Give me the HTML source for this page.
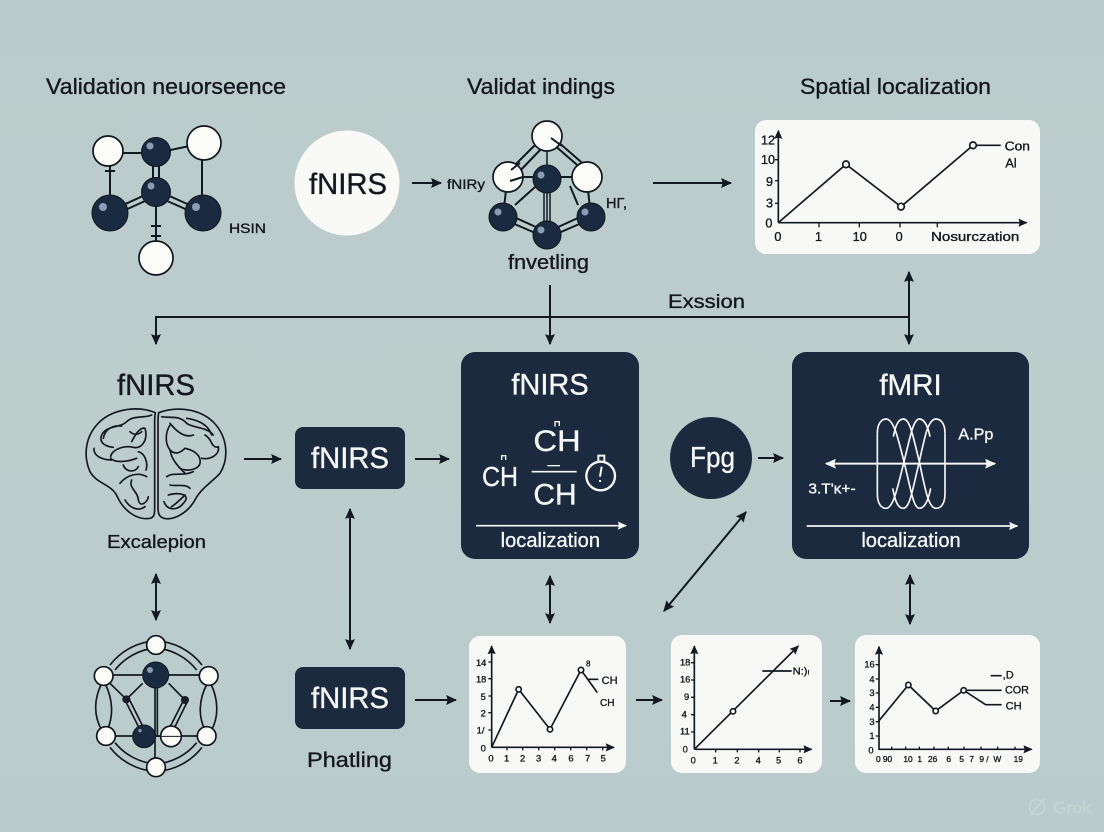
<!DOCTYPE html>
<html><head><meta charset="utf-8"><style>
html,body{margin:0;padding:0;width:1104px;height:832px;overflow:hidden;background:#bbcccc}
svg{display:block}
text{font-family:"Liberation Sans",sans-serif;fill:#14181e;stroke:#14181e;stroke-width:.35}
g[transform] text{stroke-width:1}
.w text,text.w{fill:#f6f7f7;stroke:#f6f7f7}
.l{fill:none;stroke:#111820;stroke-width:2}
.a{fill:#fbfbf8;stroke:#10161e;stroke-width:1.7}
.d{fill:#1a2a40;stroke:#10161e;stroke-width:1}
.h{fill:#8b9db4}
</style></head><body>
<svg width="1104" height="832" viewBox="0 0 1104 832" xmlns="http://www.w3.org/2000/svg">
<defs>
<marker id="m" viewBox="0 0 10 10" refX="9" refY="5" markerWidth="5.5" markerHeight="5.5" orient="auto-start-reverse"><path d="M0,0.5 L10,5 L0,9.5 L1.5,5z" fill="#111820"/></marker>
<marker id="mw" viewBox="0 0 10 10" refX="9" refY="5" markerWidth="5.5" markerHeight="5.5" orient="auto-start-reverse"><path d="M0,0.5 L10,5 L0,9.5 L1.5,5z" fill="#f6f7f7"/></marker>
<linearGradient id="bg" x1="0" y1="0" x2="0" y2="1"><stop offset="0" stop-color="#bacbcb"/><stop offset=".5" stop-color="#bdcdcc"/><stop offset="1" stop-color="#b9cbcc"/></linearGradient>
</defs>
<rect width="1104" height="832" fill="url(#bg)"/>

<!-- titles -->
<text x="46" y="94" font-size="22" textLength="240" lengthAdjust="spacingAndGlyphs">Validation neuorseence</text>
<text x="467" y="94" font-size="22" textLength="148" lengthAdjust="spacingAndGlyphs">Validat indings</text>
<text x="800" y="94" font-size="22" textLength="191" lengthAdjust="spacingAndGlyphs">Spatial localization</text>

<!-- molecule 1 -->
<g class="l">
<path d="M108,153H156L204,143"/><path d="M110,165V213M202,155V213M156,192V258"/>
<path d="M153,160V190M159,160V190"/>
<path d="M110,211L156,190M112,216L156,196M203,211L156,190M201,216L156,196"/>
<path d="M105,171H115M151,226H161M151,236H161"/>
</g>
<circle class="a" cx="108" cy="151" r="15"/><circle class="a" cx="204" cy="143" r="17"/><circle class="a" cx="156" cy="258" r="17"/>
<circle class="d" cx="156" cy="152" r="14.5"/><circle class="h" cx="150" cy="146" r="3.5"/>
<circle class="d" cx="156" cy="192" r="14.5"/><circle class="h" cx="151" cy="186" r="3.5"/>
<circle class="d" cx="110" cy="213" r="18"/><circle class="h" cx="103" cy="207" r="4"/>
<circle class="d" cx="203" cy="213" r="18"/><circle class="h" cx="196" cy="207" r="4"/>
<text x="229" y="233" font-size="14" textLength="37" lengthAdjust="spacingAndGlyphs">HSIN</text>

<!-- fNIRS circle -->
<circle cx="347" cy="183" r="52.5" fill="#f9f9f7"/>
<text x="309" y="194" font-size="30" textLength="78" lengthAdjust="spacingAndGlyphs">fNIRS</text>
<path class="l" d="M412,183H441" marker-end="url(#m)"/>
<text x="447" y="189" font-size="14" textLength="38" lengthAdjust="spacingAndGlyphs">fNIRy</text>

<!-- molecule 2 -->
<g class="l">
<path d="M547,140V179M547,179V235M544,192V225M550,192V225" stroke-width="1.5"/>
<path d="M537,143L510,170M542,148L515,176M553,144L583,170M557,141L588,168"/>
<path d="M508,177H547H587"/>
<path d="M506,190L503,217M588,190L591,217M515,205L535,187M578,205L570,186"/>
<path d="M503,219L547,238M505,213L547,232M591,219L547,238M589,213L547,232"/>
</g>
<circle class="a" cx="547" cy="136" r="15"/><circle class="a" cx="508" cy="177" r="15"/><circle class="a" cx="587" cy="177" r="15"/>
<path d="M551,138L562,146M511,170L520,163M510,181L523,177" class="l" stroke-width="1.2"/>
<circle class="d" cx="547" cy="179" r="14"/><circle class="h" cx="541" cy="175" r="3.5"/>
<circle class="d" cx="503" cy="217" r="14"/><circle class="h" cx="498" cy="212" r="3.5"/>
<circle class="d" cx="591" cy="217" r="14"/><circle class="h" cx="585" cy="212" r="3.5"/>
<circle class="d" cx="547" cy="235" r="14"/><circle class="h" cx="541" cy="230" r="3.5"/>
<text x="606" y="208" font-size="15" textLength="21" lengthAdjust="spacingAndGlyphs">HΓ,</text>
<text x="508" y="269" font-size="20" textLength="81" lengthAdjust="spacingAndGlyphs">fnvetling</text>

<path class="l" d="M653,183H731" marker-end="url(#m)"/>

<!-- chart top right -->
<rect x="755" y="120" width="285" height="134" rx="11" fill="#f8f9f7"/>
<g transform="translate(740 60) scale(.33333)">
<path d="M115,488V212" fill="none" stroke="#111820" stroke-width="5" marker-end="url(#m)"/>
<path d="M115,488H860" fill="none" stroke="#111820" stroke-width="5" marker-end="url(#m)"/>
<path d="M237,488v14M358,488v14M480,488v14M592,488v14M105,299h10M105,430h10M105,362h10" fill="none" stroke="#111820" stroke-width="4"/>
<path d="M115,488L318,313L483,440L699,256H782" fill="none" stroke="#111820" stroke-width="5"/>
<circle cx="318" cy="313" r="10" fill="#f8f9f7" stroke="#111820" stroke-width="5"/>
<circle cx="483" cy="440" r="10" fill="#f8f9f7" stroke="#111820" stroke-width="5"/>
<circle cx="699" cy="256" r="10" fill="#f8f9f7" stroke="#111820" stroke-width="5"/>
<g font-size="38">
<text x="63" y="253">12</text><text x="63" y="312">10</text><text x="78" y="378">9</text><text x="78" y="442">3</text><text x="76" y="503">0</text>
<text x="103" y="543">0</text><text x="225" y="543">1</text><text x="338" y="543">10</text><text x="467" y="543">0</text>
<text x="573" y="543" textLength="265" lengthAdjust="spacingAndGlyphs">Nosurczation</text>
<text x="794" y="272" textLength="76" lengthAdjust="spacingAndGlyphs">Con</text><text x="796" y="323">Al</text>
</g></g>

<!-- connectors upper -->
<path class="l" d="M550,285V344" marker-end="url(#m)"/>
<path class="l" d="M909,317H156V344" marker-end="url(#m)"/>
<path class="l" d="M909,272V344" marker-start="url(#m)" marker-end="url(#m)"/>
<text x="668" y="308" font-size="19.5" textLength="77" lengthAdjust="spacingAndGlyphs">Exssion</text>

<!-- brain -->
<text x="117" y="395" font-size="30" textLength="78" lengthAdjust="spacingAndGlyphs">fNIRS</text>
<g transform="translate(70 360) scale(.33333)" fill="none" stroke="#15191f" stroke-width="5" stroke-linecap="round">
<path d="M256,158C200,135 120,148 80,195C45,235 40,290 60,335C80,372 125,372 142,410C160,450 200,482 240,475C254,472 254,460 254,440V180C254,168 256,160 256,158Z"/>
<path d="M266,158C330,135 400,150 438,195C475,240 475,300 450,340C420,372 392,385 372,425C350,460 310,482 282,475C266,470 264,460 264,440V180C264,168 266,160 266,158Z"/>
<path d="M245,165C225,175 190,165 170,185C150,205 110,195 95,225C85,250 110,260 130,262M155,198C130,195 105,205 100,235M72,265C70,290 100,300 125,300M122,290C125,270 160,255 190,262C215,268 235,240 225,205C210,200 195,225 185,245"/>
<path d="M122,295C135,310 175,305 200,295M160,315C165,335 195,340 205,320M150,370C170,345 205,335 230,350M185,360C175,385 205,395 205,420C210,445 235,425 235,410M165,420C180,445 205,455 225,440M205,275C225,280 235,310 228,330M180,215C190,225 205,225 215,215"/>
<path d="M275,170C300,175 330,165 350,190C370,205 410,200 430,225M350,175C385,180 415,195 425,225M300,195C285,220 285,250 300,270C315,285 330,280 345,265C370,270 395,285 390,310C385,330 350,335 330,325"/>
<path d="M300,270C305,300 325,320 345,340M445,260C450,285 420,300 395,295M290,350C310,335 340,350 370,335M300,375C320,380 345,370 360,385M295,405C330,395 365,405 340,430C320,455 290,450 282,425M305,440C320,430 335,415 345,405M300,190C320,215 345,235 370,225M405,225C430,240 420,262 445,262"/>
</g>
<text x="107" y="548" font-size="18.5" textLength="99" lengthAdjust="spacingAndGlyphs">Excalepion</text>

<path class="l" d="M244,459H281" marker-end="url(#m)"/>
<rect x="295" y="427" width="110" height="62" rx="8" fill="#1b2a3e"/>
<text class="w" x="311" y="468" font-size="30" textLength="78" lengthAdjust="spacingAndGlyphs">fNIRS</text>
<path class="l" d="M415,459H449" marker-end="url(#m)"/>
<path class="l" d="M350,509V649" marker-start="url(#m)" marker-end="url(#m)"/>

<!-- box 2 -->
<rect x="461" y="352" width="178" height="207" rx="14" fill="#1b2a3e"/>
<g transform="translate(450 345) scale(.33333)">
<g class="w">
<text x="184" y="148" font-size="90" textLength="232" lengthAdjust="spacingAndGlyphs">fNIRS</text>
<text x="250" y="318" font-size="88" textLength="142" lengthAdjust="spacingAndGlyphs">CH</text>
<text x="96" y="423" font-size="84" textLength="108" lengthAdjust="spacingAndGlyphs">CH</text>
<text x="250" y="478" font-size="88" textLength="130" lengthAdjust="spacingAndGlyphs">CH</text>
<text x="152" y="606" font-size="60" textLength="298" lengthAdjust="spacingAndGlyphs">localization</text>
</g>
<g fill="none" stroke="#f6f7f7" stroke-width="5">
<path d="M245,380H380"/><path d="M292,362H330" stroke-width="4"/>
<circle cx="452" cy="393" r="43" stroke-width="7"/>
<path d="M445,348V332H463V348M455,365L450,395M447,408h6" stroke-width="6"/>
<path d="M315,245V230H328V243M155,345V332H167V345" stroke-width="4"/>
<path d="M78,542H528" stroke-width="5" marker-end="url(#mw)"/>
</g></g>

<!-- Fpg -->
<circle cx="711" cy="458" r="41" fill="#1b2a3e"/>
<text class="w" x="690" y="467" font-size="29" textLength="45" lengthAdjust="spacingAndGlyphs">Fpg</text>
<path class="l" d="M758,458H783" marker-end="url(#m)"/>
<path class="l" d="M664,611L746,512" marker-start="url(#m)" marker-end="url(#m)"/>

<!-- box 3 -->
<rect x="792" y="352" width="237" height="207" rx="14" fill="#1b2a3e"/>
<g transform="translate(780 345) scale(.33333)">
<g class="w">
<text x="298" y="150" font-size="90" textLength="187" lengthAdjust="spacingAndGlyphs">fMRI</text>
<text x="535" y="283" font-size="48" textLength="105" lengthAdjust="spacingAndGlyphs">A.Pp</text>
<text x="85" y="445" font-size="44" textLength="142" lengthAdjust="spacingAndGlyphs">3.T'ĸ+-</text>
<text x="244" y="606" font-size="60" textLength="298" lengthAdjust="spacingAndGlyphs">localization</text>
</g>
<g fill="none" stroke="#f6f7f7" stroke-width="5">
<path d="M292,265V445C292,478 305,490 318,490C340,490 352,430 372,350C392,270 400,222 418,222C435,222 445,250 450,275"/>
<path d="M292,265C292,235 305,222 318,222C340,222 352,270 372,350C392,430 400,490 418,490C435,490 445,465 452,430"/>
<path d="M495,265V445C495,478 482,490 468,490C445,490 435,430 418,350C398,270 390,222 370,222C352,222 345,250 340,275"/>
<path d="M495,265C495,235 482,222 468,222C445,222 435,270 418,350C398,430 390,490 370,490C352,490 345,465 338,430"/>
<path d="M138,356H645" stroke-width="6" marker-start="url(#mw)" marker-end="url(#mw)"/>
<path d="M80,543H712" stroke-width="5" marker-end="url(#mw)"/>
</g></g>

<!-- vertical double arrows -->
<path class="l" d="M156,574V620" marker-start="url(#m)" marker-end="url(#m)"/>
<path class="l" d="M550,576V623" marker-start="url(#m)" marker-end="url(#m)"/>
<path class="l" d="M910,575V624" marker-start="url(#m)" marker-end="url(#m)"/>

<!-- molecule 3 -->
<g transform="translate(70 620) scale(.33333)">
<g fill="none" stroke="#15191f" stroke-width="5">
<path d="M120,135A190,190 0 0 1 258,62A190,190 0 0 1 396,135"/>
<path d="M135,150A175,175 0 0 1 258,84A175,175 0 0 1 380,150"/>
<path d="M120,382A190,190 0 0 0 258,455A190,190 0 0 0 396,382"/>
<path d="M135,368A175,175 0 0 0 258,432A175,175 0 0 0 380,368"/>
<path d="M95,190C70,240 72,290 95,330M105,190C130,240 130,290 112,330M422,190C446,240 446,290 425,330M412,190C385,240 385,290 405,330"/>
<path d="M101,165H416M108,348H410M255,165V442M262,165V350"/>
<path d="M120,190L169,238M218,190L169,238M296,190L345,240"/>
<path d="M165,240L208,325M178,238L220,322M340,242L298,325M352,245L310,330"/>
</g>
<circle class="a" style="stroke-width:5" cx="258" cy="75" r="28"/><circle class="a" style="stroke-width:5" cx="101" cy="168" r="28"/><circle class="a" style="stroke-width:5" cx="416" cy="168" r="28"/>
<circle class="a" style="stroke-width:5" cx="108" cy="348" r="28"/><circle class="a" style="stroke-width:5" cx="410" cy="348" r="28"/><circle class="a" style="stroke-width:5" cx="258" cy="442" r="28"/>
<circle class="d" style="stroke-width:3" cx="257" cy="165" r="39"/><circle class="h" cx="240" cy="150" r="9"/>
<circle class="d" style="stroke-width:3" cx="222" cy="349" r="34"/><circle class="h" cx="210" cy="332" r="5"/>
<circle class="a" style="stroke-width:5" cx="303" cy="349" r="31"/>
<circle fill="#151d28" cx="169" cy="238" r="12"/><circle fill="#151d28" cx="345" cy="240" r="12"/>
<path d="M258,349H332" fill="none" stroke="#15191f" stroke-width="3"/>
</g>

<!-- bottom fNIRS -->
<rect x="295" y="667" width="110" height="62" rx="8" fill="#1b2a3e"/>
<text class="w" x="311" y="708" font-size="30" textLength="78" lengthAdjust="spacingAndGlyphs">fNIRS</text>
<text x="307" y="767" font-size="21" textLength="85" lengthAdjust="spacingAndGlyphs">Phatling</text>
<path class="l" d="M415,700H456" marker-end="url(#m)"/>
<path class="l" d="M636,700H662" stroke-width="2.2" marker-end="url(#m)"/>
<path class="l" d="M830,701H850" marker-end="url(#m)"/>

<!-- cards -->
<rect x="469" y="636" width="157" height="137" rx="11" fill="#f8f9f7"/>
<rect x="671" y="635" width="151" height="138" rx="11" fill="#f8f9f7"/>
<rect x="855" y="635" width="185" height="138" rx="11" fill="#f8f9f7"/>

<g transform="translate(460 630) scale(.33333)" fill="none" stroke="#111820" stroke-width="5">
<path d="M95,352V48" marker-end="url(#m)"/><path d="M95,352H462" marker-end="url(#m)"/>
<path d="M95,352L176,178L270,298L363,120L412,188M385,148H415"/>
<path d="M85,96h10M85,146h10M85,198h10M85,248h10M85,300h10M141,352v9M188,352v9M236,352v9M284,352v9M332,352v9M380,352v9M428,352v9" stroke-width="4"/>
<circle cx="176" cy="178" r="8" fill="#f8f9f7"/><circle cx="270" cy="298" r="8" fill="#f8f9f7"/><circle cx="363" cy="120" r="8" fill="#f8f9f7"/>
<g font-size="28">
<text x="48" y="108">14</text><text x="48" y="158">18</text><text x="62" y="210">5</text><text x="62" y="260">2</text><text x="50" y="310">1/</text><text x="62" y="365">0</text>
<text x="85" y="395">0</text><text x="132" y="395">1</text><text x="180" y="395">2</text><text x="228" y="395">3</text><text x="275" y="395">4</text><text x="325" y="395">6</text><text x="375" y="395">7</text><text x="422" y="395">5</text>
</g>
<g font-size="33"><text x="425" y="162">CH</text><text x="420" y="228" font-size="30">CH</text><text x="378" y="110" font-size="24">8</text></g>

<path d="M703,358V48" marker-end="url(#m)"/><path d="M703,358H1055" marker-end="url(#m)"/>
<path d="M703,358L1015,48" marker-end="url(#m)"/><path d="M907,123H995"/>
<path d="M693,98h10M693,150h10M693,202h10M693,254h10M693,306h10M767,358v9M832,358v9M896,358v9M958,358v9M1020,358v9" stroke-width="4"/>
<circle cx="819" cy="244" r="8" fill="#f8f9f7"/>
<g font-size="28">
<text x="660" y="106">18</text><text x="660" y="158">16</text><text x="672" y="210">9</text><text x="665" y="262">4</text><text x="660" y="314">11</text><text x="668" y="368">0</text>
<text x="692" y="400">0</text><text x="758" y="400">1</text><text x="823" y="400">2</text><text x="887" y="400">4</text><text x="948" y="400">5</text><text x="1012" y="400">6</text>
</g>
<text x="998" y="133" font-size="30" textLength="50" lengthAdjust="spacingAndGlyphs">N:)ₗ</text>
</g>

<g transform="translate(840 630) scale(.33333)" fill="none" stroke="#111820" stroke-width="5">
<path d="M117,360V50" marker-end="url(#m)"/><path d="M117,358H575" marker-end="url(#m)"/>
<path d="M117,272L205,165L287,243L371,181H485M371,181L437,224H485M452,137H485"/>
<path d="M107,104h10M107,147h10M107,189h10M107,232h10M107,275h10M107,318h10M155,358v-8M197,358v-8M238,358v-8M282,358v-8M325,358v-8M372,358v-8M423,358v-8M473,358v-8M525,358v-8" stroke-width="4"/>
<circle cx="205" cy="165" r="8" fill="#f8f9f7"/><circle cx="287" cy="243" r="8" fill="#f8f9f7"/><circle cx="371" cy="181" r="8" fill="#f8f9f7"/>
<g font-size="28">
<text x="73" y="113">16</text><text x="88" y="157">4</text><text x="88" y="198">3</text><text x="88" y="242">4</text><text x="88" y="285">3</text><text x="88" y="327">1</text><text x="85" y="370">0</text>
</g>
<g font-size="25">
<text x="108" y="396">0 90</text><text x="190" y="396">10</text><text x="232" y="396">1</text><text x="264" y="396">26</text><text x="319" y="396">6</text><text x="358" y="396">5</text><text x="388" y="396">7</text><text x="418" y="396">9 /</text><text x="460" y="396">W</text><text x="521" y="396">19</text>
</g>
<g font-size="33"><text x="488" y="146">,D</text><text x="495" y="190" textLength="72" lengthAdjust="spacingAndGlyphs">COR</text><text x="497" y="238">CH</text></g>
</g>

<!-- watermark -->
<circle cx="1037" cy="807" r="7.5" fill="none" stroke="#c6d4d4" stroke-width="1.8"/>
<path d="M1030,815L1045,798" stroke="#c6d4d4" stroke-width="1.8"/>
<text x="1053" y="813" font-size="15.5" style="fill:#c6d4d4;stroke:#c6d4d4;stroke-width:.4" textLength="38" lengthAdjust="spacingAndGlyphs">Grok</text>
</svg>
</body></html>
